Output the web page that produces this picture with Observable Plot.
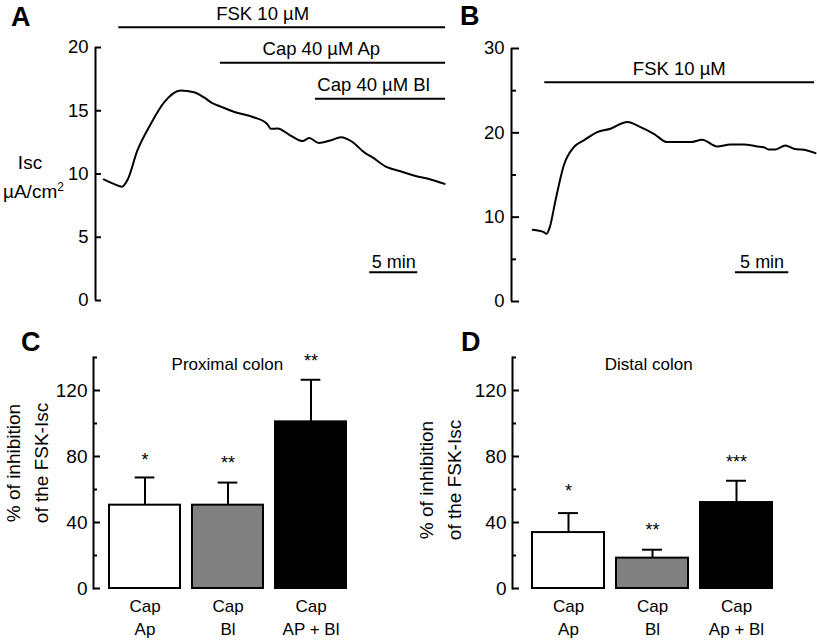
<!DOCTYPE html>
<html><head><meta charset="utf-8">
<script src="https://cdn.jsdelivr.net/npm/d3@7"></script>
<script src="https://cdn.jsdelivr.net/npm/@observablehq/plot@0.6"></script>
<style>
body{margin:0;background:#fff;font-family:"Liberation Sans",Arial,Helvetica,sans-serif;}
#fig{position:relative;width:817px;height:642px;overflow:hidden;background:#fff;}
.panel{position:absolute;}
.lbl{position:absolute;white-space:nowrap;line-height:1;color:#000;}
.rot{position:absolute;white-space:nowrap;text-align:center;color:#000;transform:translate(-50%,-50%) rotate(-90deg);}
</style></head><body><div id="fig"></div>
<script>
// ---------- Panel A: proximal colon Isc trace ----------
const timeA = [0,1.04,1.9,2.45,3.5,4.9,6.3,8.0,9.4,10.4,11.3,12.15,13.6,15.6,17.0,17.4,18.1,19.45,20.7,21.4,22.4,23.6,24.7,25.9,27.1,27.95,29.5,30.9,32.3,34.05,35.5];
const iscA  = [9.57,9.22,9.0,9.5,11.86,13.97,15.68,16.6,16.47,16.07,15.6,15.34,14.9,14.49,13.97,13.57,13.6,13.04,12.6,12.84,12.45,12.65,12.9,12.53,11.73,11.33,10.54,10.22,9.88,9.57,9.22];
const yTicksA = [0,5,10,15,20];
const treatLabelA = ["FSK 10 µM","Cap 40 µM Ap","Cap 40 µM Bl"];
const treatStartA = [1.56,12.15,22.05];
const treatEndA   = [35.6,35.6,35.6];
const treatLevelA = [21.6,18.8,15.94];
const treatTextXA = [16.55,22.66,28.1];
const scaleBarA = {label:"5 min", start:27.7, end:32.7, level:2.24};

// ---------- Panel B: distal colon Isc trace ----------
const timeB = [0,1.04,1.29,1.6,2.14,2.92,3.87,4.81,6.08,7.33,8.91,10.16,11.42,12.68,13.93,14.88,15.98,17.4,18.65,19.91,21.17,21.79,22.26,22.9,23.84,24.62,25.89,26.67];
const iscB  = [8.5,8.22,8.03,8.81,11.98,16.13,18.3,19.1,20.08,20.49,21.27,20.68,19.89,18.9,18.9,18.9,19.18,18.39,18.62,18.62,18.39,18.3,18.03,18.03,18.5,18.11,17.91,17.59];
const yTicksB = [0,5,10,15,20,25,30];
const yLabelsB = [0,10,20,30];
const treatLabelB = ["FSK 10 µM"];
const treatStartB = [1.13];
const treatEndB   = [26.58];
const treatLevelB = [26.0];
const treatTextXB = [13.82];
const scaleBarB = {label:"5 min", start:19.12, end:24.15, level:3.47};

// ---------- Panel C: proximal colon inhibition ----------
const categoriesC = ["Cap\nAp","Cap\nBl","Cap\nAP + Bl"];
const meanC  = [50.5,50.5,101];
const semC   = [16.8,13.7,25.5];
const starsC = ["*","**","**"];
const starYC = [80.4,78.6,140];
const fillC  = ["#ffffff","#808080","#000000"];
const titleC = "Proximal colon";

// ---------- Panel D: distal colon inhibition ----------
const categoriesD = ["Cap\nAp","Cap\nBl","Cap\nAp + Bl"];
const meanD  = [33.9,18.4,52.1];
const semD   = [11.8,5.1,13.2];
const starsD = ["*","**","***"];
const starYD = [61.2,38,79];
const fillD  = ["#ffffff","#808080","#000000"];
const titleD = "Distal colon";

const yTicksCD = [0,20,40,60,80,100,120,140];
const yLabelsCD = [0,40,80,120];

const FONT = '"Liberation Sans", Arial, Helvetica, sans-serif';
const fig = document.getElementById("fig");

function panelDiv(left, top, w, h) {
  const d = document.createElement("div");
  d.className = "panel";
  Object.assign(d.style, {left: left+"px", top: top+"px", width: w+"px", height: h+"px"});
  fig.appendChild(d);
  return d;
}
function label(html, x, baseline, fs, opts = {}) {
  const s = document.createElement("div");
  s.className = "lbl";
  s.innerHTML = html;
  s.style.fontSize = fs + "px";
  s.style.left = x + "px";
  s.style.top = (baseline - 0.8465 * fs) + "px";
  if (opts.bold) s.style.fontWeight = "bold";
  if (opts.center) s.style.transform = "translateX(-50%)";
  fig.appendChild(s);
}
function rotLabel(html, cx, cy, fs, lh) {
  const s = document.createElement("div");
  s.className = "rot";
  s.innerHTML = html;
  s.style.fontSize = fs + "px";
  s.style.lineHeight = lh + "px";
  s.style.left = cx + "px";
  s.style.top = cy + "px";
  fig.appendChild(s);
}
const baseStyle = {background: "transparent", fontFamily: FONT, fontSize: "18px", color: "black", overflow: "visible"};

function tracePanel(cfg) {
  const {W, H, ml, mr, mt, mb, xDomain, yDomain, ticks, labels, majorLen, minorLen, time, isc,
         tLabel, tStart, tEnd, tLevel, tTextX, bar} = cfg;
  const frameW = W - ml - mr;
  const trace = time.map((t, i) => ({t, v: isc[i]}));
  const treat = tLabel.map((l, i) => ({label: l, start: tStart[i], end: tEnd[i], level: tLevel[i], tx: tTextX[i]}));
  const major = ticks.filter(d => labels.includes(d));
  const minor = ticks.filter(d => !labels.includes(d));
  return Plot.plot({
    width: W, height: H, marginLeft: ml, marginRight: mr, marginTop: mt, marginBottom: mb,
    style: baseStyle,
    x: {domain: xDomain, axis: null},
    y: {domain: yDomain},
    marks: [
      Plot.axisY({ticks: labels, tickSize: 0, tickPadding: 7, fontSize: 18.5, label: null}),
      Plot.ruleX([xDomain[0]], {y1: yDomain[0], y2: yDomain[1], strokeWidth: 2}),
      Plot.tickY(major, {y: d => d, insetRight: frameW - majorLen, strokeWidth: 2}),
      Plot.tickY(minor, {y: d => d, insetRight: frameW - minorLen, strokeWidth: 2}),
      Plot.line(trace, {x: "t", y: "v", strokeWidth: 2, strokeLinejoin: "round", curve: "monotone-x"}),
      Plot.ruleY(treat, {y: "level", x1: "start", x2: "end", strokeWidth: 2}),
      Plot.text(treat, {x: "tx", y: "level", text: "label", lineAnchor: "bottom", dy: -7.5, fontSize: 18.5}),
      Plot.ruleY([bar], {y: "level", x1: "start", x2: "end", strokeWidth: 2}),
      Plot.text([bar], {x: d => (d.start + d.end) / 2, y: "level", text: "label", lineAnchor: "bottom", dy: -4.5, fontSize: 18})
    ]
  });
}

function barPanel(cfg) {
  const {W, H, ml, mr, mt, mb, cats, mean, sem, stars, starY, fills, title, pi, po, titleDx} = cfg;
  const data = cats.map((c, i) => ({cat: c, mean: mean[i], upper: mean[i] + sem[i], star: stars[i], starY: starY[i], fill: fills[i]}));
  const frameW = W - ml - mr;
  const step = frameW / (cats.length - pi + 2 * po);
  const bw = step * (1 - pi);
  const capW = 20;
  const major = yTicksCD.filter(d => yLabelsCD.includes(d));
  const minor = yTicksCD.filter(d => !yLabelsCD.includes(d));
  return Plot.plot({
    width: W, height: H, marginLeft: ml, marginRight: mr, marginTop: mt, marginBottom: mb,
    style: baseStyle,
    x: {domain: cats, paddingInner: pi, paddingOuter: po, axis: null},
    y: {domain: [0, 140]},
    color: {type: "identity"},
    marks: [
      Plot.axisY({ticks: yLabelsCD, tickSize: 0, tickPadding: 6, fontSize: 19, label: null}),
      Plot.frame({anchor: "left", strokeWidth: 2}),
      Plot.tickY(major, {y: d => d, insetRight: frameW - 7, strokeWidth: 2}),
      Plot.tickY(minor, {y: d => d, insetRight: frameW - 4, strokeWidth: 2}),
      Plot.ruleX(data, {x: "cat", y1: "mean", y2: "upper", strokeWidth: 2}),
      Plot.tickY(data, {x: "cat", y: "upper", insetLeft: (bw - capW) / 2, insetRight: (bw - capW) / 2, strokeWidth: 2}),
      Plot.barY(data, {x: "cat", y: "mean", fill: "fill", stroke: "black", strokeWidth: 2}),
      Plot.text(data, {x: "cat", y: "starY", text: "star", lineAnchor: "middle", dy: 4, fontSize: 18}),
      Plot.text(data, {x: "cat", text: "cat", frameAnchor: "bottom", lineAnchor: "top", dy: 8, fontSize: 17, lineHeight: 1.32}),
      Plot.text([title], {text: d => d, frameAnchor: "top", lineAnchor: "top", dy: 0.9, dx: titleDx, fontSize: 17})
    ]
  });
}

// Panel A
panelDiv(0, 0, 460, 320).appendChild(tracePanel({
  W: 460, H: 320, ml: 95, mr: 10, mt: 47, mb: 20,
  xDomain: [-0.865, 36.115], yDomain: [0, 20], ticks: yTicksA, labels: yTicksA, majorLen: 6, minorLen: 6,
  time: timeA, isc: iscA, tLabel: treatLabelA, tStart: treatStartA, tEnd: treatEndA, tLevel: treatLevelA, tTextX: treatTextXA, bar: scaleBarA
}));
// Panel B
panelDiv(440, 0, 377, 320).appendChild(tracePanel({
  W: 377, H: 320, ml: 71, mr: 0, mt: 48, mb: 19,
  xDomain: [-2.01, 26.86], yDomain: [0, 30], ticks: yTicksB, labels: yLabelsB, majorLen: 8, minorLen: 5,
  time: timeB, isc: iscB, tLabel: treatLabelB, tStart: treatStartB, tEnd: treatEndB, tLevel: treatLevelB, tTextX: treatTextXB, bar: scaleBarB
}));
// Panel C
panelDiv(0, 320, 420, 322).appendChild(barPanel({
  W: 420, H: 322, ml: 93, mr: 57.3, mt: 37, mb: 54,
  cats: categoriesC, mean: meanC, sem: semC, stars: starsC, starY: starYC, fills: fillC, title: titleC,
  pi: 0.142, po: 0.193, titleDx: -1
}));
// Panel D
panelDiv(420, 320, 397, 322).appendChild(barPanel({
  W: 397, H: 322, ml: 92, mr: 24.7, mt: 37, mb: 54,
  cats: categoriesD, mean: meanD, sem: semD, stars: starsD, starY: starYD, fills: fillD, title: titleD,
  pi: 0.142, po: 0.239, titleDx: -4
}));

// Panel letters and axis titles
label("A", 11, 27, 27, {bold: true});
label("B", 460, 26, 27, {bold: true});
label("C", 21, 352, 27, {bold: true});
label("D", 461, 352, 27, {bold: true});
label("Isc", 30, 169, 19, {center: true});
label("µA/cm<sup style='font-size:12px;vertical-align:7px'>2</sup>", 3, 197, 19);
rotLabel("% of inhibition<br>of the FSK-Isc", 28, 463, 19, 28);
rotLabel("% of inhibition<br>of the FSK-Isc", 441, 480, 19, 28);
</script>
</body></html>
